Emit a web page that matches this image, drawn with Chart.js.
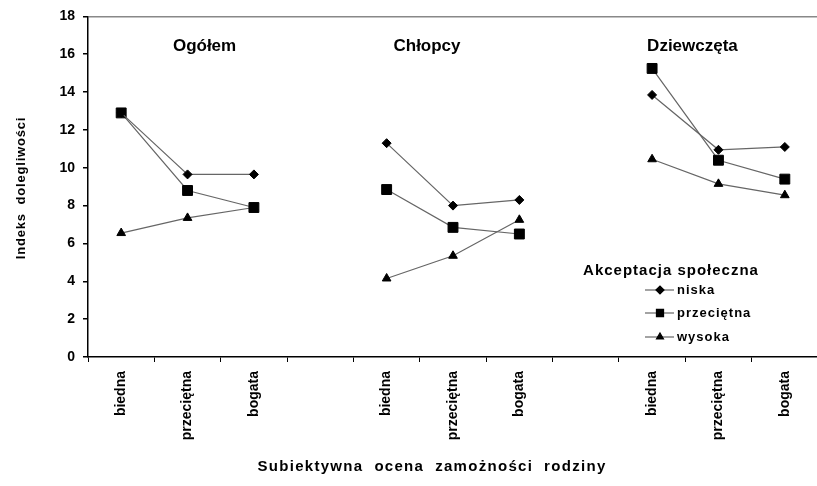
<!DOCTYPE html>
<html>
<head>
<meta charset="utf-8">
<script src="https://cdn.jsdelivr.net/npm/chart.js@4/dist/chart.umd.min.js"></script>
<style>
  html, body { margin: 0; padding: 0; background: #fff; overflow: hidden; }
  #wrap { width: 826px; height: 486px; }
</style>
</head>
<body>
<div id="wrap"><canvas id="chart" width="826" height="486"></canvas></div>
<script>
// categories and groups
const categories = ['biedna', 'przeciętna', 'bogata'];
const groups = ['Ogółem', 'Chłopcy', 'Dziewczęta'];
const yTicks = [0, 2, 4, 6, 8, 10, 12, 14, 16, 18];

// series values (per group: biedna, przeciętna, bogata)
const niska      = [[12.9, 9.65, 9.65], [11.3, 8.0, 8.3],   [13.85, 10.95, 11.1]];
const przecietna = [[12.9, 8.8, 7.9],   [8.85, 6.85, 6.5],  [15.25, 10.4, 9.4]];
const wysoka     = [[6.55, 7.35, 7.9],  [4.15, 5.35, 7.25], [10.45, 9.15, 8.55]];

const seriesNames = ['niska', 'przeciętna', 'wysoka'];
const legendTitle = 'Akceptacja społeczna';
const yTitle = 'Indeks  dolegliwości';
const xTitle = 'Subiektywna  ocena  zamożności  rodziny';

// one empty slot between groups
function flatLabels() {
    let out = [];
    groups.forEach((g, i) => {
        if (i > 0) out.push('');
        categories.forEach(c => out.push(c));
    });
    return out;
}
function flatData(series) {
    let out = [];
    series.forEach((vals, i) => {
        if (i > 0) out.push(null);
        vals.forEach(v => out.push(v));
    });
    return out;
}

const styles = ['rectRot', 'rect', 'triangle'];
const radii = [4.5, 7, 5];

const datasets = [niska, przecietna, wysoka].map((s, i) => ({
    label: seriesNames[i],
    data: flatData(s),
    borderColor: '#666',
    borderWidth: 1.2,
    pointStyle: styles[i],
    pointRadius: radii[i],
    pointBackgroundColor: '#000',
    pointBorderColor: '#000',
    pointBorderWidth: 1,
    spanGaps: false,
    tension: 0
}));

const FONT = 'Arial, "Liberation Sans", sans-serif';

const extras = {
    id: 'extras',
    afterDraw(chart) {
        const ctx = chart.ctx;
        const x = chart.scales.x, y = chart.scales.y;
        ctx.save();
        ctx.fillStyle = '#000';
        ctx.textBaseline = 'middle';
        ctx.textAlign = 'center';

        // group titles
        ctx.font = 'bold 17px ' + FONT;
        const offs = [17, -26, -26];
        groups.forEach((g, i) => {
            const cx = x.getPixelForValue(i * 4 + 1) + offs[i];
            ctx.fillText(g, cx, y.getPixelForValue(16.4));
        });

        // x title
        ctx.font = 'bold 15px ' + FONT;
        ctx.letterSpacing = '1.3px';
        ctx.fillText(xTitle, 432, 467);

        // y title
        ctx.save();
        ctx.translate(21, 188);
        ctx.rotate(-Math.PI / 2);
        ctx.font = 'bold 13px ' + FONT;
        ctx.letterSpacing = '0.8px';
        ctx.fillText(yTitle, 0, 0);
        ctx.restore();

        // legend
        ctx.font = 'bold 15px ' + FONT;
        ctx.letterSpacing = '1px';
        ctx.fillText(legendTitle, 671, 271);
        ctx.textAlign = 'left';
        ctx.font = 'bold 13px ' + FONT;
        ctx.letterSpacing = '1px';
        const ly = [290, 313, 337];
        seriesNames.forEach((n, i) => {
            ctx.strokeStyle = '#666';
            ctx.lineWidth = 1.2;
            ctx.beginPath();
            ctx.moveTo(645, ly[i]);
            ctx.lineTo(674, ly[i]);
            ctx.stroke();
            ctx.fillStyle = '#000';
            ctx.strokeStyle = '#000';
            Chart.helpers.drawPoint(ctx, {
                pointStyle: styles[i],
                radius: i === 1 ? 5 : 4,
                rotation: 0,
                borderWidth: 1
            }, 660, ly[i]);
            ctx.fillText(n, 677, ly[i]);
        });
        ctx.letterSpacing = '0px';
        ctx.restore();
    }
};

new Chart(document.getElementById('chart'), {
    type: 'line',
    data: { labels: flatLabels(), datasets: datasets },
    options: {
        responsive: false,
        animation: false,
        layout: { padding: { top: 10, right: 0, left: 0, bottom: 0 } },
        plugins: { legend: { display: false }, tooltip: { enabled: false } },
        scales: {
            x: {
                offset: true,
                grid: { drawOnChartArea: false, offset: true, color: '#000', tickLength: 5, lineWidth: 1 },
                border: { color: '#000', width: 1.5 },
                ticks: {
                    autoSkip: false,
                    minRotation: 90, maxRotation: 90,
                    padding: 9,
                    color: '#000',
                    font: { family: FONT, size: 14, weight: 'bold' }
                },
                afterFit(scale) { scale.height = 129; }
            },
            y: {
                min: 0, max: 18,
                afterBuildTicks(scale) { scale.ticks = yTicks.map(v => ({ value: v })); },
                grid: {
                    drawOnChartArea: true,
                    color: c => (c.tick && c.tick.value === 18) ? '#888' : 'rgba(0,0,0,0)',
                    lineWidth: 1.5,
                    tickColor: '#000',
                    tickLength: 5
                },
                border: { color: '#000', width: 1.5 },
                ticks: {
                    padding: 8,
                    color: '#000',
                    font: { family: FONT, size: 14, weight: 'bold' }
                },
                afterFit(scale) { scale.width = 88; }
            }
        }
    },
    plugins: [extras]
});
</script>
</body>
</html>
